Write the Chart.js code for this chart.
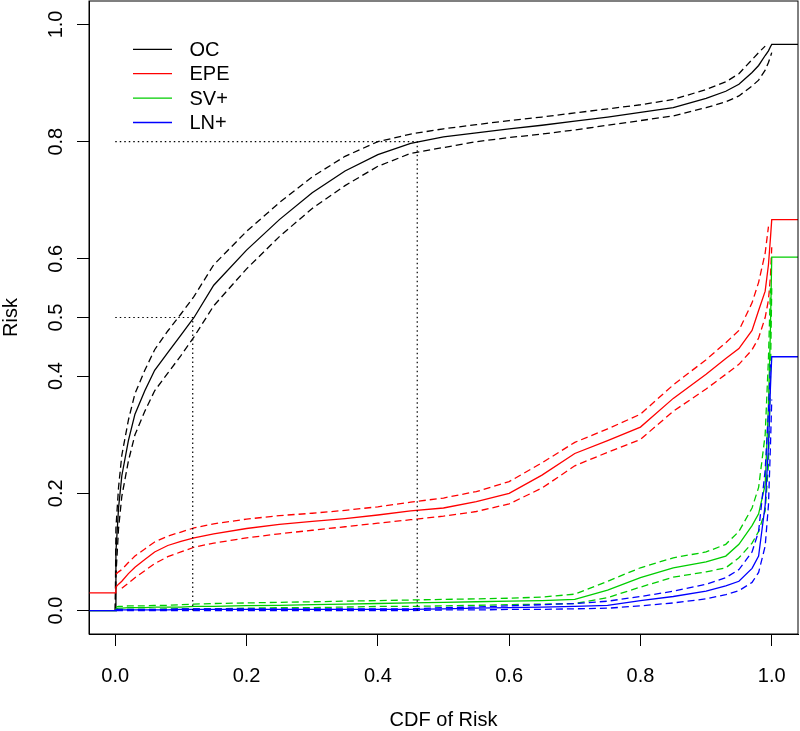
<!DOCTYPE html>
<html>
<head>
<meta charset="utf-8">
<script src="https://cdn.jsdelivr.net/npm/chart.js@4.4.1/dist/chart.umd.min.js"></script>
<style>
  html, body { margin: 0; padding: 0; background: #fff; }
</style>
</head>
<body>
<canvas id="riskChart" width="800" height="731"></canvas>
<script>
/* data ###################### */
// CDF of risk (shared x grid)
const cdfGrid = [-0.04, 0, 0.001, 0.005, 0.01, 0.02, 0.03, 0.045, 0.06, 0.08, 0.1, 0.12, 0.15, 0.2, 0.25, 0.3, 0.35, 0.4, 0.45, 0.5,
  0.55, 0.6, 0.65, 0.7, 0.75, 0.8, 0.85, 0.9, 0.93, 0.95, 0.97, 0.98, 0.99, 0.995, 0.998, 1.0, 1.04];

// OC
const ocRisk = [0, 0, 0.1, 0.175, 0.23, 0.29, 0.335, 0.375, 0.41, 0.44, 0.47, 0.5, 0.555, 0.615, 0.667, 0.713, 0.75, 0.778, 0.797, 0.808,
  0.815, 0.822, 0.828, 0.835, 0.842, 0.85, 0.858, 0.874, 0.886, 0.898, 0.918, 0.93, 0.947, 0.955, 0.962, 0.966, 0.966];
const ocLow = [null, 0, 0.06, 0.14, 0.195, 0.255, 0.3, 0.34, 0.375, 0.405, 0.435, 0.467, 0.52, 0.583, 0.638, 0.686, 0.725, 0.758, 0.78, 0.79,
  0.8, 0.807, 0.813, 0.82, 0.828, 0.836, 0.844, 0.858, 0.868, 0.878, 0.895, 0.905, 0.922, 0.935, 0.945, 0.952, null];
const ocHigh = [null, 0, 0.14, 0.21, 0.265, 0.325, 0.37, 0.41, 0.445, 0.477, 0.506, 0.536, 0.59, 0.647, 0.696, 0.74, 0.775, 0.8, 0.813, 0.822,
  0.829, 0.836, 0.842, 0.849, 0.856, 0.863, 0.872, 0.889, 0.902, 0.916, 0.94, 0.952, 0.963, null, null, null, null];

// EPE
const epeRisk = [0.03, 0.03, 0.04, 0.045, 0.05, 0.063, 0.074, 0.087, 0.1, 0.111, 0.118, 0.124, 0.131, 0.14, 0.147, 0.152, 0.157, 0.163, 0.17, 0.175,
  0.186, 0.2, 0.231, 0.268, 0.29, 0.313, 0.362, 0.403, 0.43, 0.447, 0.478, 0.512, 0.545, 0.59, 0.635, 0.667, 0.667];
const epeLow = [null, null, null, null, 0.038, 0.047, 0.056, 0.068, 0.08, 0.092, 0.1, 0.108, 0.115, 0.124, 0.131, 0.137, 0.143, 0.149, 0.155, 0.161,
  0.169, 0.182, 0.209, 0.247, 0.27, 0.292, 0.34, 0.378, 0.403, 0.42, 0.445, 0.465, 0.5, 0.53, 0.57, 0.62, null];
const epeHigh = [null, null, 0.062, 0.066, 0.07, 0.082, 0.093, 0.105, 0.117, 0.127, 0.134, 0.141, 0.148, 0.156, 0.162, 0.166, 0.171, 0.177, 0.185, 0.192,
  0.203, 0.22, 0.252, 0.287, 0.31, 0.335, 0.385, 0.428, 0.457, 0.478, 0.525, 0.56, 0.61, 0.655, null, null, null];

// SV+
const svRisk = [0, 0, 0.003, 0.004, 0.004, 0.005, 0.005, 0.005, 0.006, 0.006, 0.006, 0.007, 0.007, 0.0085, 0.009, 0.01, 0.011, 0.012, 0.013, 0.014,
  0.015, 0.016, 0.017, 0.019, 0.035, 0.056, 0.073, 0.083, 0.093, 0.113, 0.145, 0.165, 0.215, 0.35, 0.48, 0.603, 0.603];
const svLow = [null, null, 0, 0.001, 0.001, 0.002, 0.002, 0.002, 0.002, 0.003, 0.003, 0.003, 0.003, 0.004, 0.005, 0.005, 0.006, 0.007, 0.007, 0.008,
  0.009, 0.01, 0.011, 0.012, 0.022, 0.04, 0.057, 0.066, 0.073, 0.09, 0.115, 0.135, 0.17, 0.25, 0.4, 0.55, null];
const svHigh = [null, null, 0.006, 0.007, 0.007, 0.008, 0.008, 0.008, 0.009, 0.009, 0.01, 0.011, 0.012, 0.013, 0.014, 0.015, 0.016, 0.017, 0.018, 0.019,
  0.02, 0.021, 0.023, 0.028, 0.05, 0.073, 0.09, 0.1, 0.113, 0.135, 0.175, 0.21, 0.3, 0.43, 0.55, null, null];

// LN+
const lnRisk = [0, 0, 0.001, 0.001, 0.001, 0.001, 0.001, 0.001, 0.001, 0.001, 0.002, 0.002, 0.002, 0.002, 0.002, 0.002, 0.002, 0.002, 0.002, 0.003,
  0.004, 0.005, 0.006, 0.007, 0.009, 0.017, 0.024, 0.033, 0.042, 0.05, 0.072, 0.093, 0.18, 0.28, 0.38, 0.433, 0.433];
const lnLow = [null, null, 0, 0, 0, 0, 0, 0, 0, 0, 0, 0, 0, 0, 0, 0, 0, 0, 0, 0.001,
  0.001, 0.002, 0.002, 0.003, 0.004, 0.008, 0.013, 0.02, 0.027, 0.034, 0.048, 0.065, 0.11, 0.18, 0.28, 0.36, null];
const lnHigh = [null, null, 0.002, 0.002, 0.002, 0.002, 0.002, 0.002, 0.002, 0.002, 0.003, 0.003, 0.003, 0.003, 0.003, 0.003, 0.003, 0.003, 0.003, 0.005,
  0.006, 0.008, 0.01, 0.012, 0.016, 0.024, 0.033, 0.045, 0.056, 0.07, 0.1, 0.135, 0.24, 0.34, 0.42, null, null];

const seriesLabels = ["OC", "EPE", "SV+", "LN+"];
const seriesColors = ["#000000", "#FF0000", "#00CD00", "#0000FF"];

// dotted guide lines (cdf, risk)
const refCdf = [0.118, 0.46];
const refRisk = [0.5, 0.8];

const xTickValues = [0, 0.2, 0.4, 0.6, 0.8, 1.0];
const yTickValues = [0, 0.2, 0.4, 0.5, 0.6, 0.8, 1.0];

const fontFamily = "'Liberation Sans', Arial, Helvetica, sans-serif";

/* datasets ###################### */
const riskSets = [
  [ocRisk, ocLow, ocHigh],
  [epeRisk, epeLow, epeHigh],
  [svRisk, svLow, svHigh],
  [lnRisk, lnLow, lnHigh],
];

function toPoints(values) {
  return cdfGrid.map((x, i) => ({ x: x, y: values[i] }));
}

const datasets = [];
riskSets.forEach((set, idx) => {
  const color = seriesColors[idx];
  const drawOrder = riskSets.length - idx; // later series drawn on top
  datasets.push({
    label: seriesLabels[idx],
    data: toPoints(set[0]),
    borderColor: color,
    borderWidth: 1.3,
    order: drawOrder,
  });
  set.slice(1).forEach((band) => {
    datasets.push({
      label: seriesLabels[idx] + " CI",
      data: toPoints(band),
      borderColor: color,
      borderWidth: 1.3,
      borderDash: [7, 4],
      order: drawOrder,
    });
  });
});

refCdf.forEach((cdf, i) => {
  datasets.push({
    label: "guide",
    data: [
      { x: 0, y: refRisk[i] },
      { x: cdf, y: refRisk[i] },
      { x: cdf, y: 0 },
    ],
    borderColor: "#000000",
    borderWidth: 1.2,
    borderDash: [1.5, 3],
    order: 0,
  });
});

/* plugins ###################### */
// box around the plot region
const plotBox = {
  id: "plotBox",
  afterDraw(chart) {
    const { ctx, chartArea } = chart;
    ctx.save();
    ctx.strokeStyle = "#000000";
    ctx.lineWidth = 1;
    ctx.strokeRect(chartArea.left, chartArea.top, chartArea.right - chartArea.left, chartArea.bottom - chartArea.top);
    ctx.restore();
  },
};

// legend in the top-left corner, no frame
const riskLegend = {
  id: "riskLegend",
  afterDraw(chart) {
    const { ctx, chartArea } = chart;
    ctx.save();
    ctx.font = "20px " + fontFamily;
    ctx.textBaseline = "middle";
    ctx.lineWidth = 1.3;
    seriesLabels.forEach((label, i) => {
      const y = chartArea.top + 48.3 + i * 24.4;
      ctx.strokeStyle = seriesColors[i];
      ctx.beginPath();
      ctx.moveTo(chartArea.left + 44, y);
      ctx.lineTo(chartArea.left + 83, y);
      ctx.stroke();
      ctx.fillStyle = "#000000";
      ctx.fillText(label, chartArea.left + 100.5, y + 1);
    });
    ctx.restore();
  },
};

/* chart ###################### */
const tickFont = { family: fontFamily, size: 20 };
const titleFont = { family: fontFamily, size: 20, lineHeight: 1 };

const ctx = document.getElementById("riskChart").getContext("2d");
new Chart(ctx, {
  type: "line",
  data: { datasets: datasets },
  options: {
    responsive: false,
    animation: false,
    layout: { padding: { top: 1, right: 2, left: 0, bottom: 0 } },
    elements: {
      point: { radius: 0 },
      line: { tension: 0, fill: false },
    },
    plugins: {
      legend: { display: false },
      tooltip: { enabled: false },
    },
    scales: {
      x: {
        type: "linear",
        min: -0.04,
        max: 1.04,
        afterBuildTicks: (scale) => {
          scale.ticks = xTickValues.map((v) => ({ value: v }));
        },
        afterFit: (scale) => {
          scale.height = 97;
          scale.paddingLeft = 0;
          scale.paddingRight = 0;
        },
        grid: { drawOnChartArea: false, drawTicks: true, tickLength: 12, color: "#000000", lineWidth: 1 },
        border: { display: true, color: "#000000", width: 1 },
        ticks: {
          font: tickFont,
          color: "#000000",
          padding: 18,
          maxRotation: 0,
          callback: (v) => Number(v).toFixed(1),
        },
        title: { display: true, text: "CDF of Risk", font: titleFont, color: "#000000", padding: { top: 0, bottom: 1 } },
      },
      y: {
        type: "linear",
        min: -0.04,
        max: 1.04,
        afterBuildTicks: (scale) => {
          scale.ticks = yTickValues.map((v) => ({ value: v }));
        },
        afterFit: (scale) => {
          scale.width = 89;
          scale.paddingTop = 0;
          scale.paddingBottom = 0;
        },
        grid: { drawOnChartArea: false, drawTicks: true, tickLength: 12, color: "#000000", lineWidth: 1 },
        border: { display: true, color: "#000000", width: 1 },
        ticks: {
          font: tickFont,
          color: "#000000",
          padding: 7,
          minRotation: 90,
          maxRotation: 90,
          crossAlign: "center",
          callback: (v) => Number(v).toFixed(1),
        },
        title: { display: true, text: "Risk", font: titleFont, color: "#000000", padding: { top: 1, bottom: 0 } },
      },
    },
  },
  plugins: [plotBox, riskLegend],
});
</script>
</body>
</html>
